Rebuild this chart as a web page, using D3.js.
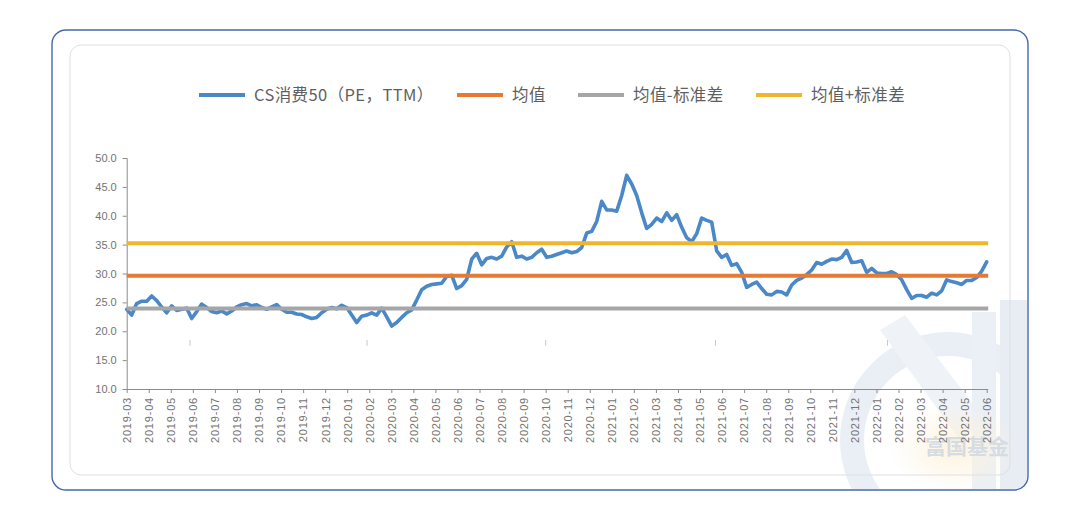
<!DOCTYPE html>
<html>
<head>
<meta charset="utf-8">
<script src="https://cdn.jsdelivr.net/npm/d3@7"></script>
<style>
  html, body { margin: 0; padding: 0; background: #ffffff; }
  svg { display: block; }
</style>
</head>
<body>
<svg id="chart" width="1080" height="520"></svg>
<script>
// ---------- data ----------
const monthLabels = [
  "2019-03","2019-04","2019-05","2019-06","2019-07","2019-08","2019-09","2019-10","2019-11","2019-12",
  "2020-01","2020-02","2020-03","2020-04","2020-05","2020-06","2020-07","2020-08","2020-09","2020-10",
  "2020-11","2020-12","2021-01","2021-02","2021-03","2021-04","2021-05","2021-06","2021-07","2021-08",
  "2021-09","2021-10","2021-11","2021-12","2022-01","2022-02","2022-03","2022-04","2022-05","2022-06"
];
const yTicks = [10, 15, 20, 25, 30, 35, 40, 45, 50];

// CS消费50 PE (TTM), roughly weekly readings, 2019-03 .. 2022-06
const peValues = [
  23.8,22.8,24.8,25.2,25.2,26.1,25.3,24.2,23.2,24.4,23.6,23.8,24.0,22.2,23.4,24.7,24.1,23.4,23.2,23.5,
  23.0,23.5,24.2,24.6,24.8,24.4,24.6,24.1,23.8,24.2,24.6,23.8,23.3,23.3,23.0,22.9,22.5,22.2,22.4,23.2,
  23.8,24.1,23.9,24.5,24.1,22.8,21.5,22.6,22.8,23.2,22.8,24.0,22.5,20.9,21.5,22.4,23.2,23.7,25.4,27.2,
  27.8,28.1,28.2,28.3,29.5,29.7,27.4,27.9,29.0,32.5,33.5,31.5,32.6,32.8,32.5,33.0,34.6,35.5,32.8,33.0,
  32.5,32.8,33.6,34.2,32.8,33.0,33.3,33.6,33.9,33.6,33.8,34.5,37.0,37.3,39.0,42.5,41.0,41.0,40.8,43.5,
  47.0,45.5,43.5,40.5,37.8,38.5,39.6,39.0,40.5,39.2,40.2,38.0,36.2,35.5,36.9,39.6,39.2,38.9,33.9,32.8,
  33.3,31.4,31.7,30.2,27.6,28.1,28.5,27.4,26.4,26.3,26.9,26.8,26.3,28.0,28.8,29.2,29.8,30.6,31.9,31.6,
  32.1,32.5,32.4,32.8,34.0,31.9,32.0,32.2,30.2,30.9,30.1,30.0,30.0,30.3,29.8,28.9,27.2,25.7,26.2,26.2,
  25.9,26.6,26.3,27.0,28.9,28.6,28.4,28.1,28.8,28.8,29.3,30.4,32.0
];
const meanValue = 29.6;
const stdValue = 5.65;
const seriesNames = ["CS消费50（PE，TTM）", "均值", "均值-标准差", "均值+标准差"];
const seriesColors = ["#4a88c7", "#e57a35", "#a6a6a6", "#efb62c"];
// faint stray marks seen inside the plot (month position, value)
const strayMarks = [[2.87, 18.0], [10.9, 18.0], [19.0, 18.0], [26.7, 18.0], [34.5, 18.0]];

// ---------- layout ----------
const svg = d3.select("#chart");
const plot = { left: 126.7, right: 986.7, top: 158, bottom: 389 };
const x = d3.scaleLinear().domain([0, monthLabels.length - 1]).range([plot.left, plot.right]);
const y = d3.scaleLinear().domain([10, 50]).range([plot.bottom, plot.top]);
const xi = d3.scaleLinear().domain([0, peValues.length - 1]).range([0, monthLabels.length - 1]);

// ---------- card frames ----------
svg.append("rect").attr("x", 52).attr("y", 30).attr("width", 976).attr("height", 460)
  .attr("rx", 14).attr("fill", "#ffffff").attr("stroke", "#4468ad").attr("stroke-width", 1.4);
svg.append("rect").attr("x", 70).attr("y", 45).attr("width", 940).attr("height", 430)
  .attr("rx", 11).attr("fill", "#ffffff").attr("stroke", "#dcdfe7").attr("stroke-width", 1);

// ---------- watermark ----------
const defs = svg.append("defs");
defs.append("clipPath").attr("id", "cardClip").append("rect")
  .attr("x", 53).attr("y", 31).attr("width", 974).attr("height", 458).attr("rx", 13);
const glow = defs.append("radialGradient").attr("id", "glow");
glow.append("stop").attr("offset", "0%").attr("stop-color", "#fbe7bd").attr("stop-opacity", 0.9);
glow.append("stop").attr("offset", "100%").attr("stop-color", "#fbe7bd").attr("stop-opacity", 0);
const wm = svg.append("g").attr("clip-path", "url(#cardClip)").attr("opacity", 0.55);
wm.append("circle").attr("cx", 948).attr("cy", 440).attr("r", 96)
  .attr("fill", "none").attr("stroke", "#d9e2ee").attr("stroke-width", 24);
wm.append("path").attr("d", "M880,330 L905,315 L985,420 L960,440 Z").attr("fill", "#e2e9f2");
wm.append("rect").attr("x", 972).attr("y", 312).attr("width", 24).attr("height", 180).attr("fill", "#dbe3ee");
wm.append("path").attr("d", "M1000,300 L1030,300 L1030,490 L1000,490 Z").attr("fill", "#d5dfec");
wm.append("ellipse").attr("cx", 955).attr("cy", 448).attr("rx", 65).attr("ry", 45).attr("fill", "url(#glow)");
wm.append("text").attr("x", 967).attr("y", 454).attr("text-anchor", "middle")
  .attr("font-family", "'Noto Sans CJK SC', sans-serif").attr("font-weight", 700).attr("font-size", 21)
  .attr("fill", "#b4bfcd").text("富国基金");

// ---------- axes ----------
const axisColor = "#8c8c8c";
const labelColor = "#737373";
const yAxis = svg.append("g").attr("transform", `translate(${plot.left},0)`)
  .call(d3.axisLeft(y).tickValues(yTicks).tickFormat(d3.format(".1f")).tickSize(4).tickPadding(6));
yAxis.select(".domain").attr("stroke", axisColor);
yAxis.selectAll(".tick line").attr("stroke", axisColor);
yAxis.selectAll("text").attr("fill", labelColor).attr("font-size", 11)
  .attr("font-family", "'Liberation Sans', Arial, sans-serif");

const xAxis = svg.append("g").attr("transform", `translate(0,${plot.bottom})`)
  .call(d3.axisBottom(x).tickValues(d3.range(monthLabels.length)).tickFormat(i => monthLabels[i])
    .tickSize(4).tickSizeOuter(0));
xAxis.select(".domain").attr("stroke", axisColor).attr("d", `M${plot.left},0.5H${plot.right + 1.5}`);
xAxis.selectAll(".tick line").attr("stroke", axisColor);
xAxis.selectAll("text").attr("fill", labelColor).attr("font-size", 11)
  .attr("font-family", "'Liberation Sans', Arial, sans-serif")
  .attr("text-anchor", "end").attr("dy", "0.35em")
  .attr("transform", "translate(0,8) rotate(-90)")
  .attr("x", 0).attr("y", 0).attr("letter-spacing", "0.8px");

// stray marks
svg.append("g").selectAll("line").data(strayMarks).join("line")
  .attr("x1", d => x(d[0])).attr("x2", d => x(d[0]))
  .attr("y1", d => y(d[1] + 0.5)).attr("y2", d => y(d[1] - 0.5))
  .attr("stroke", "#c8c8c8").attr("stroke-width", 1);

// ---------- series ----------
const line = d3.line().x((d, i) => x(xi(i))).y(d => y(d)).curve(d3.curveLinear);
svg.append("path").datum(peValues).attr("d", line)
  .attr("fill", "none").attr("stroke", seriesColors[0]).attr("stroke-width", 3.6)
  .attr("stroke-linejoin", "round").attr("stroke-linecap", "round");

const levels = [meanValue, meanValue - stdValue, meanValue + stdValue];
svg.append("g").selectAll("line").data(levels).join("line")
  .attr("x1", x(0)).attr("x2", x(monthLabels.length - 1) + 1.5)
  .attr("y1", d => y(d)).attr("y2", d => y(d))
  .attr("stroke", (d, i) => seriesColors[i + 1]).attr("stroke-width", 4);

// ---------- legend ----------
const legendItems = [
  { name: seriesNames[0], color: seriesColors[0], x: 199 },
  { name: seriesNames[1], color: seriesColors[1], x: 457 },
  { name: seriesNames[2], color: seriesColors[2], x: 578 },
  { name: seriesNames[3], color: seriesColors[3], x: 756 }
];
const lg = svg.append("g").attr("transform", "translate(0,95)");
const li = lg.selectAll("g").data(legendItems).join("g").attr("transform", d => `translate(${d.x},0)`);
li.append("line").attr("x1", 0).attr("x2", 46).attr("y1", 0).attr("y2", 0)
  .attr("stroke", d => d.color).attr("stroke-width", 4);
li.append("text").attr("x", 55).attr("y", 0).attr("dy", "0.35em")
  .attr("font-family", "'Noto Sans CJK SC', sans-serif").attr("font-size", 16.5)
  .attr("letter-spacing", "0.4px")
  .attr("fill", "#5f5f5f").text(d => d.name);
</script>
</body>
</html>
